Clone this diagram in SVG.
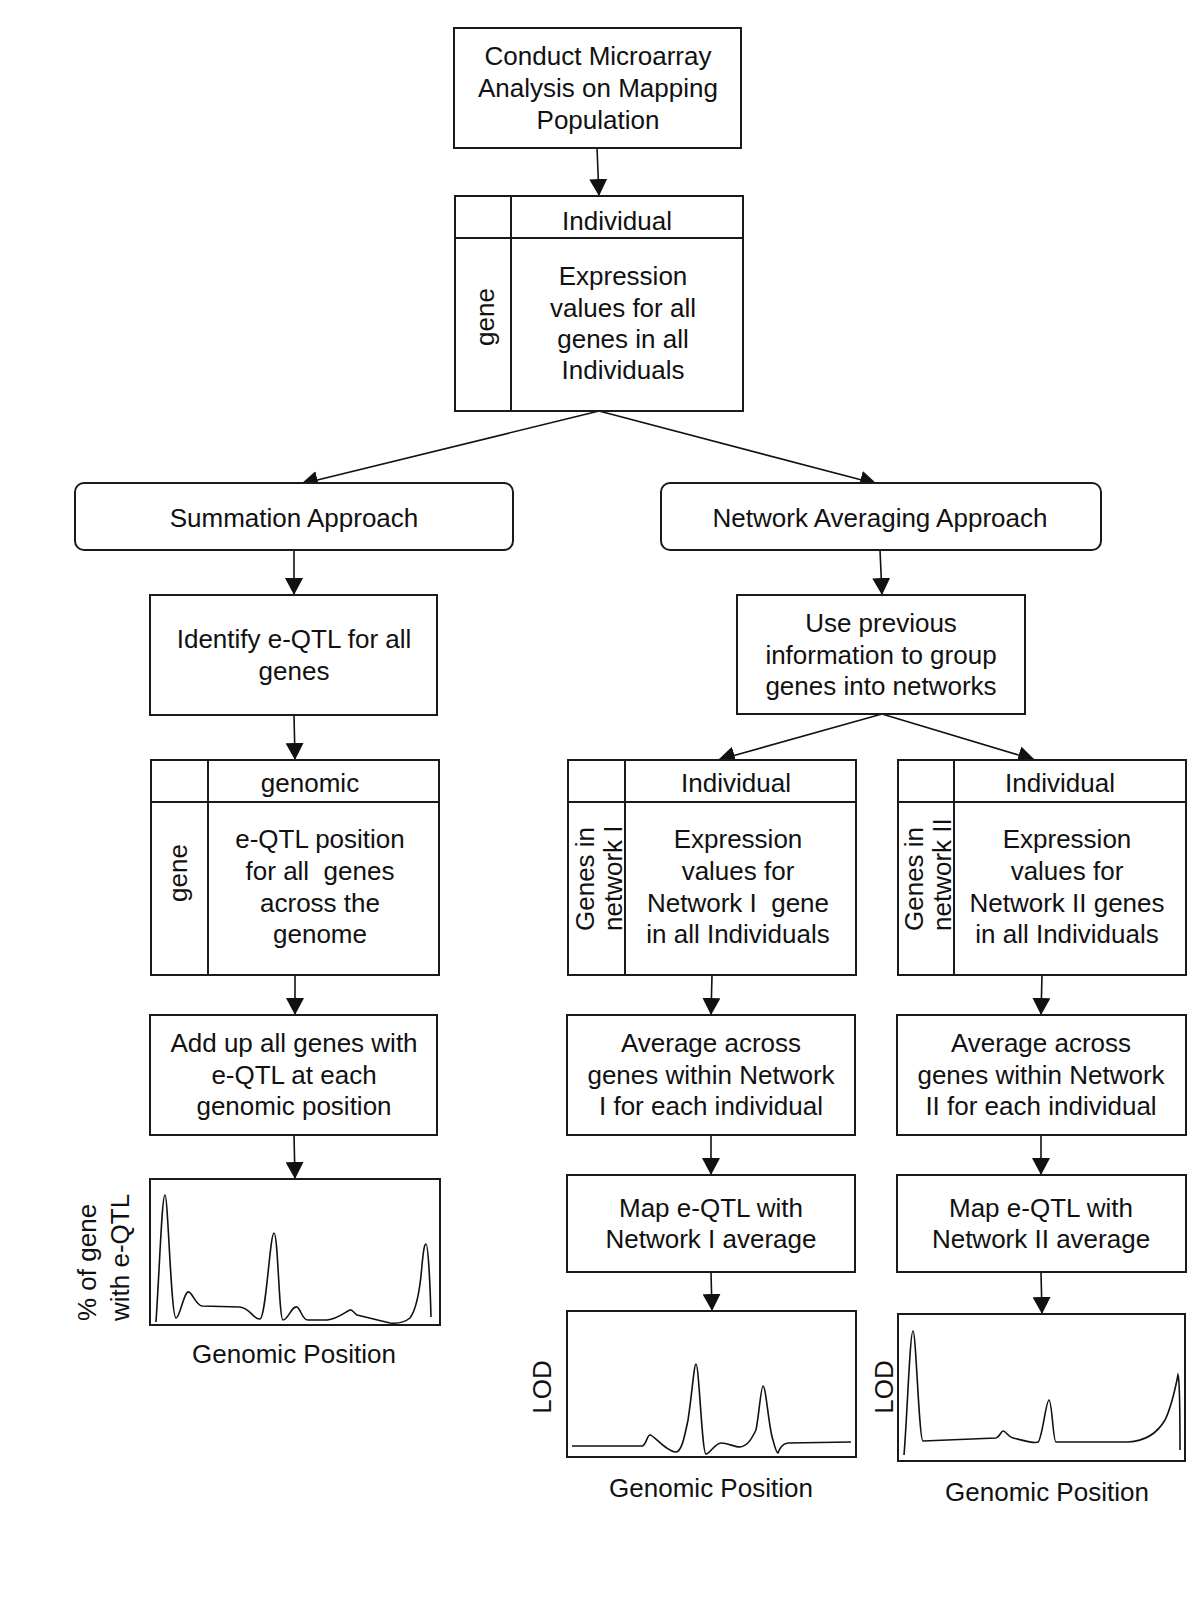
<svg xmlns="http://www.w3.org/2000/svg" width="1200" height="1600" viewBox="0 0 1200 1600">
<defs>
<marker id="arr" markerUnits="userSpaceOnUse" markerWidth="18" markerHeight="18" viewBox="0 0 18 18" refX="17" refY="9" orient="auto">
<path d="M0,0 L17,9 L0,18 Z" fill="#111"/>
</marker>
</defs>
<style>
.box{fill:#fff;stroke:#1a1a1a;stroke-width:2}
.div{stroke:#1a1a1a;stroke-width:2;fill:none}
.t{font-family:"Liberation Sans",Arial,sans-serif;font-size:26px;fill:#111;text-anchor:middle}
.rs{font-family:"Liberation Sans",Arial,sans-serif;font-size:26px;fill:#111;text-anchor:start}
.rm{font-family:"Liberation Sans",Arial,sans-serif;font-size:26px;fill:#111;text-anchor:middle}
.con{stroke:#111;stroke-width:1.6;fill:none;marker-end:url(#arr)}
.curve{stroke:#111;stroke-width:1.6;fill:none}
</style>
<rect width="1200" height="1600" fill="#fff"/>

<g id="connectors">
<line class="con" x1="597" y1="148" x2="599" y2="196"/>
<line class="con" x1="599" y1="411" x2="301" y2="484"/>
<line class="con" x1="599" y1="411" x2="877" y2="484"/>
<line class="con" x1="294" y1="550" x2="294" y2="595"/>
<line class="con" x1="880" y1="550" x2="882" y2="595"/>
<line class="con" x1="294" y1="715" x2="295" y2="760"/>
<line class="con" x1="882" y1="714" x2="718" y2="760"/>
<line class="con" x1="882" y1="714" x2="1035" y2="760"/>
<line class="con" x1="295" y1="975" x2="295" y2="1015"/>
<line class="con" x1="712" y1="975" x2="711" y2="1015"/>
<line class="con" x1="1042" y1="975" x2="1041" y2="1015"/>
<line class="con" x1="294" y1="1135" x2="295" y2="1179"/>
<line class="con" x1="711" y1="1135" x2="711" y2="1175"/>
<line class="con" x1="1041" y1="1135" x2="1041" y2="1175"/>
<line class="con" x1="711" y1="1272" x2="712" y2="1311"/>
<line class="con" x1="1041" y1="1272" x2="1042" y2="1314"/>
</g>

<g id="conduct">
<rect class="box" x="454" y="28" width="287" height="120"/>
<text class="t" x="598" y="65">Conduct Microarray</text>
<text class="t" x="598" y="97">Analysis on Mapping</text>
<text class="t" x="598" y="129">Population</text>
</g>

<g id="matrix-all">
<rect class="box" x="455" y="196" width="288" height="215"/>
<line class="div" x1="455" y1="238" x2="743" y2="238"/>
<line class="div" x1="511" y1="196" x2="511" y2="411"/>
<text class="t" x="617" y="230">Individual</text>
<text class="rm" transform="translate(494,317) rotate(-90)">gene</text>
<text class="t" x="623" y="285">Expression</text>
<text class="t" x="623" y="317">values for all</text>
<text class="t" x="623" y="348">genes in all</text>
<text class="t" x="623" y="379">Individuals</text>
</g>

<g id="summation">
<rect class="box" x="75" y="483" width="438" height="67" rx="9"/>
<text class="t" x="294" y="527">Summation Approach</text>
</g>

<g id="network-avg">
<rect class="box" x="661" y="483" width="440" height="67" rx="9"/>
<text class="t" x="880" y="527">Network Averaging Approach</text>
</g>

<g id="identify">
<rect class="box" x="150" y="595" width="287" height="120"/>
<text class="t" x="294" y="648">Identify e-QTL for all</text>
<text class="t" x="294" y="680">genes</text>
</g>

<g id="group-networks">
<rect class="box" x="737" y="595" width="288" height="119"/>
<text class="t" x="881" y="632">Use previous</text>
<text class="t" x="881" y="664">information to group</text>
<text class="t" x="881" y="695">genes into networks</text>
</g>

<g id="matrix-genomic">
<rect class="box" x="151" y="760" width="288" height="215"/>
<line class="div" x1="151" y1="802" x2="439" y2="802"/>
<line class="div" x1="208" y1="760" x2="208" y2="975"/>
<text class="t" x="310" y="792">genomic</text>
<text class="rm" transform="translate(187,873) rotate(-90)">gene</text>
<text class="t" x="320" y="848">e-QTL position</text>
<text class="t" x="320" y="880">for all&#160; genes</text>
<text class="t" x="320" y="912">across the</text>
<text class="t" x="320" y="943">genome</text>
</g>

<g id="matrix-net1">
<rect class="box" x="568" y="760" width="288" height="215"/>
<line class="div" x1="568" y1="802" x2="856" y2="802"/>
<line class="div" x1="625" y1="760" x2="625" y2="975"/>
<text class="t" x="736" y="792">Individual</text>
<text class="rs" transform="translate(594,931) rotate(-90)">Genes in</text>
<text class="rs" transform="translate(622,931) rotate(-90)">network I</text>
<text class="t" x="738" y="848">Expression</text>
<text class="t" x="738" y="880">values for</text>
<text class="t" x="738" y="912">Network I&#160; gene</text>
<text class="t" x="738" y="943">in all Individuals</text>
</g>

<g id="matrix-net2">
<rect class="box" x="898" y="760" width="288" height="215"/>
<line class="div" x1="898" y1="802" x2="1186" y2="802"/>
<line class="div" x1="954" y1="760" x2="954" y2="975"/>
<text class="t" x="1060" y="792">Individual</text>
<text class="rs" transform="translate(923,931) rotate(-90)">Genes in</text>
<text class="rs" transform="translate(951,931) rotate(-90)">network II</text>
<text class="t" x="1067" y="848">Expression</text>
<text class="t" x="1067" y="880">values for</text>
<text class="t" x="1067" y="912">Network II genes</text>
<text class="t" x="1067" y="943">in all Individuals</text>
</g>

<g id="add-up">
<rect class="box" x="150" y="1015" width="287" height="120"/>
<text class="t" x="294" y="1052">Add up all genes with</text>
<text class="t" x="294" y="1084">e-QTL at each</text>
<text class="t" x="294" y="1115">genomic position</text>
</g>

<g id="average-net1">
<rect class="box" x="567" y="1015" width="288" height="120"/>
<text class="t" x="711" y="1052">Average across</text>
<text class="t" x="711" y="1084">genes within Network</text>
<text class="t" x="711" y="1115">I for each individual</text>
</g>

<g id="average-net2">
<rect class="box" x="897" y="1015" width="289" height="120"/>
<text class="t" x="1041" y="1052">Average across</text>
<text class="t" x="1041" y="1084">genes within Network</text>
<text class="t" x="1041" y="1115">II for each individual</text>
</g>

<g id="map-net1">
<rect class="box" x="567" y="1175" width="288" height="97"/>
<text class="t" x="711" y="1217">Map e-QTL with</text>
<text class="t" x="711" y="1248">Network I average</text>
</g>

<g id="map-net2">
<rect class="box" x="897" y="1175" width="289" height="97"/>
<text class="t" x="1041" y="1217">Map e-QTL with</text>
<text class="t" x="1041" y="1248">Network II average</text>
</g>

<g id="plot-summation">
<rect class="box" x="150" y="1179" width="290" height="146"/>
<path class="curve" d="M156,1322 C160,1260 162,1195 165,1195 C168,1195 171,1318 176,1318 C180,1318 184,1290 189,1292 C193,1294 196,1305 202,1306 L240,1307 C250,1308 254,1320 260,1319 C266,1318 270,1233 274,1233 C278,1233 279,1320 283,1320 C288,1320 292,1305 297,1307 C301,1309 302,1320 308,1320 L327,1320 C338,1319 345,1312 350,1310 C352,1309 354,1313 357,1315 L390,1323 C398,1324 405,1322 410,1318 C416,1310 420,1290 422,1265 C424,1245 425,1244 426,1244 C428,1244 430,1280 431,1317"/>
<text class="rs" transform="translate(96,1321) rotate(-90)">% of gene</text>
<text class="rs" transform="translate(129,1321) rotate(-90)">with e-QTL</text>
<text class="t" x="294" y="1363">Genomic Position</text>
</g>

<g id="plot-net1">
<rect class="box" x="567" y="1311" width="289" height="146"/>
<path class="curve" d="M572,1446 L642,1446 C646,1446 647,1435 650,1435 C654,1435 664,1450 675,1452 C681,1453 684,1440 688,1420 C692,1395 694,1364 696,1364 C699,1364 702,1454 706,1454 C710,1454 715,1443 721,1443 C728,1443 734,1447 740,1447 C748,1446 752,1438 756,1430 C759,1415 761,1386 763,1386 C766,1386 769,1430 773,1440 C775,1448 777,1453 778,1453 C780,1448 782,1444 788,1443 L851,1442"/>
<text class="rm" transform="translate(551,1387) rotate(-90)">LOD</text>
<text class="t" x="711" y="1497">Genomic Position</text>
</g>

<g id="plot-net2">
<rect class="box" x="898" y="1314" width="287" height="147"/>
<path class="curve" d="M904,1455 C907,1420 910,1331 913,1331 C916,1331 919,1441 923,1441 L996,1438 C1000,1437 1001,1431 1003,1431 C1006,1431 1008,1437 1013,1438 C1023,1440 1033,1444 1038,1442 C1042,1440 1046,1400 1049,1400 C1052,1400 1053,1442 1056,1442 L1128,1442 C1147,1441 1158,1432 1165,1420 C1171,1408 1175,1390 1178,1375 C1180,1380 1180,1420 1180,1450"/>
<text class="rm" transform="translate(893,1387) rotate(-90)">LOD</text>
<text class="t" x="1047" y="1501">Genomic Position</text>
</g>
</svg>
